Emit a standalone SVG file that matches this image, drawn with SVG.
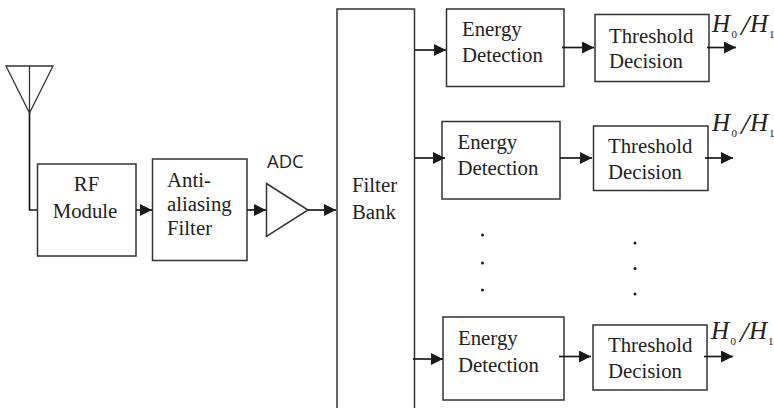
<svg xmlns="http://www.w3.org/2000/svg" width="774" height="408" viewBox="0 0 774 408">
<defs>
<marker id="a" markerUnits="userSpaceOnUse" markerWidth="12" markerHeight="13" refX="12" refY="6" orient="auto"><path d="M0 0L12 6L0 12Z" fill="#1a1a1a"/></marker>
</defs>
<style>
.b{fill:#fff;stroke:#333;stroke-width:1.5}
.t{font-family:"Liberation Serif",serif;font-size:20.800px;fill:#222}
.c{fill:none;stroke:#1a1a1a;stroke-width:1.7}
.m{font-family:"Liberation Serif",serif;font-style:italic;font-size:25px;fill:#222}
.l{font-family:"Liberation Serif",serif;font-style:italic;font-size:30px;fill:#222}
.s{font-family:"Liberation Serif",serif;font-size:11px;fill:#222}
.d{fill:#1a1a1a}
</style>
<g id="antenna"><path d="M6 66H53L29.500 113Z" fill="none" stroke="#333" stroke-width="1.300"/><path d="M29.500 66V113" fill="none" stroke="#333" stroke-width="1.300"/></g>
<g id="rf"><rect class="b" x="37.500" y="164" width="98.500" height="92"/><text class="t" x="86.500" y="191" text-anchor="middle">RF</text><text class="t" x="85" y="218" text-anchor="middle">Module</text></g>
<g id="antialias"><rect class="b" x="152.500" y="159" width="94.500" height="101.500"/><text class="t" x="167" y="186.500">Anti-</text><text class="t" x="167" y="210.500">aliasing</text><text class="t" x="167" y="234.500">Filter</text></g>
<g id="adc"><path class="b" d="M266.500 183.500L308 210L266.500 236.500Z"/><text x="267" y="168" font-family="'Open Sans',sans-serif" font-size="18.500px" fill="#222">ADC</text></g>
<g id="filterbank"><path class="b" d="M337 408V9H414.500V408"/><text class="t" x="352" y="191.500">Filter</text><text class="t" x="352" y="218.500">Bank</text></g>
<g id="energy1"><rect class="b" x="446.500" y="9" width="117.500" height="77.500"/><text class="t" x="462" y="36">Energy</text><text class="t" x="462" y="62">Detection</text></g>
<g id="threshold1"><rect class="b" x="595" y="14.500" width="114" height="67"/><text class="t" x="609" y="42.500">Threshold</text><text class="t" x="609" y="68">Decision</text></g>
<g id="energy2"><rect class="b" x="442" y="121.500" width="118" height="77.500"/><text class="t" x="457.500" y="148.500">Energy</text><text class="t" x="457.500" y="174.500">Detection</text></g>
<g id="threshold2"><rect class="b" x="593.500" y="126" width="114.500" height="64.500"/><text class="t" x="608" y="153">Threshold</text><text class="t" x="608" y="179">Decision</text></g>
<g id="energy3"><rect class="b" x="443" y="317" width="121" height="83"/><text class="t" x="458" y="344.500">Energy</text><text class="t" x="458" y="371.500">Detection</text></g>
<g id="threshold3"><rect class="b" x="593" y="325" width="114" height="65"/><text class="t" x="608" y="352">Threshold</text><text class="t" x="608" y="378">Decision</text></g>
<g id="labels">
<text x="712" y="32" class="m">H</text><text x="731.500" y="38" class="s">0</text><text x="741" y="35" class="l">/</text><text x="750" y="32" class="m">H</text><text x="769" y="38" class="s">1</text>
<text x="712" y="131" class="m">H</text><text x="731.500" y="137" class="s">0</text><text x="741" y="134" class="l">/</text><text x="750" y="131" class="m">H</text><text x="769" y="137" class="s">1</text>
<text x="711" y="339" class="m">H</text><text x="730.500" y="345" class="s">0</text><text x="740" y="342" class="l">/</text><text x="749" y="339" class="m">H</text><text x="768" y="345" class="s">1</text>
</g>
<g id="dots">
<circle class="d" cx="482.500" cy="235" r="1.500"/><circle class="d" cx="482.500" cy="263" r="1.500"/><circle class="d" cx="482.500" cy="290" r="1.500"/>
<circle class="d" cx="635" cy="243" r="1.500"/><circle class="d" cx="635" cy="268.500" r="1.500"/><circle class="d" cx="635" cy="294" r="1.500"/>
</g>
<g id="connectors">
<path class="c" d="M29.500 113V210H37"/>
<path class="c" d="M136 210H152" marker-end="url(#a)"/>
<path class="c" d="M247 210H266" marker-end="url(#a)"/>
<path class="c" d="M308 210H336" marker-end="url(#a)"/>
<path class="c" d="M415 50H446" marker-end="url(#a)"/>
<path class="c" d="M562 47.500H594" marker-end="url(#a)"/>
<path class="c" d="M707 47.500H736" marker-end="url(#a)"/>
<path class="c" d="M415 158H445" marker-end="url(#a)"/>
<path class="c" d="M560 158H592" marker-end="url(#a)"/>
<path class="c" d="M705 158H733" marker-end="url(#a)"/>
<path class="c" d="M413 359H443" marker-end="url(#a)"/>
<path class="c" d="M559 356.500H591" marker-end="url(#a)"/>
<path class="c" d="M704 356.500H733" marker-end="url(#a)"/>
</g>
</svg>
